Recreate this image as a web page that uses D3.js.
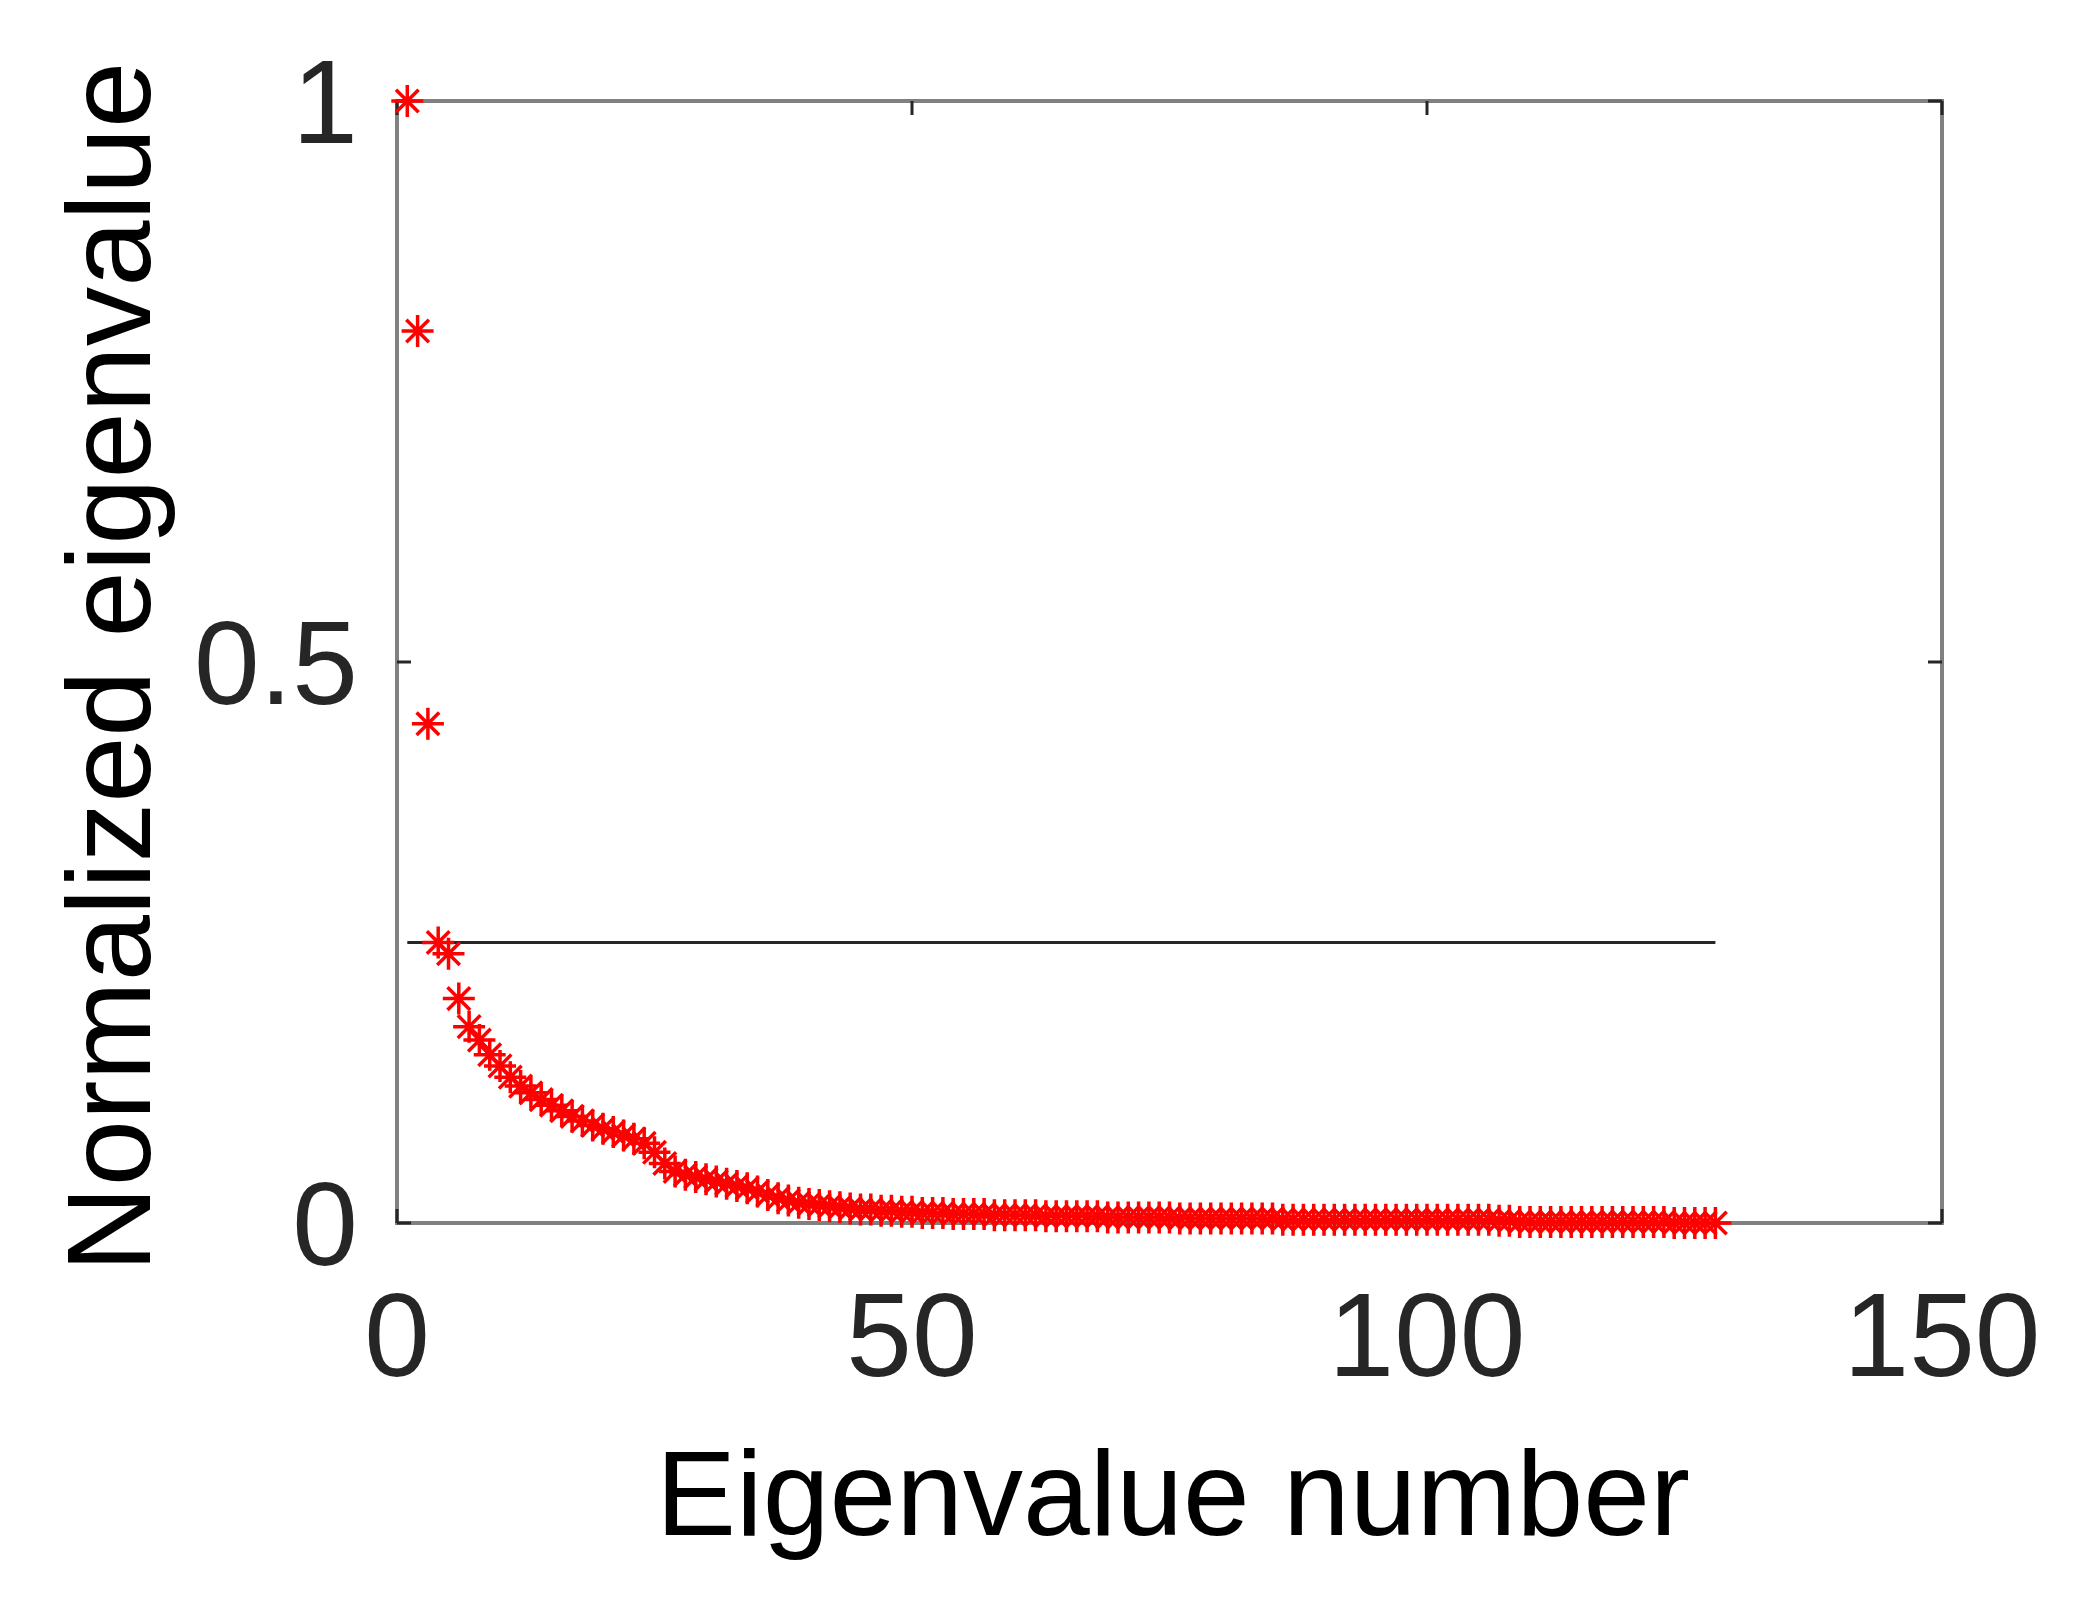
<!DOCTYPE html>
<html><head><meta charset="utf-8">
<script src="https://cdn.jsdelivr.net/npm/d3@7"></script>
<style>body{margin:0;background:#fff}</style>
</head><body>
<div id="chart"></div>
<script>
// normalized eigenvalues (index 1..128)
var eigenvalues = [
  1, 0.795, 0.445, 0.25, 0.24, 0.2, 0.175, 0.163, 0.15, 0.14,
  0.13, 0.122, 0.116, 0.11, 0.105, 0.1, 0.095, 0.091, 0.087, 0.084,
  0.081, 0.078, 0.075, 0.071, 0.063, 0.053, 0.046, 0.043, 0.041, 0.039,
  0.037, 0.035, 0.033, 0.031, 0.028, 0.025, 0.022, 0.02, 0.018, 0.017,
  0.016, 0.015, 0.014, 0.013, 0.012, 0.012, 0.011, 0.011, 0.01, 0.01,
  0.009, 0.009, 0.009, 0.008, 0.008, 0.008, 0.008, 0.007, 0.007, 0.007,
  0.007, 0.007, 0.006, 0.006, 0.006, 0.006, 0.006, 0.006, 0.005, 0.005,
  0.005, 0.005, 0.005, 0.005, 0.005, 0.004, 0.004, 0.004, 0.004, 0.004,
  0.004, 0.004, 0.004, 0.004, 0.004, 0.003, 0.003, 0.003, 0.003, 0.003,
  0.003, 0.003, 0.003, 0.003, 0.003, 0.003, 0.003, 0.003, 0.003, 0.003,
  0.003, 0.003, 0.003, 0.003, 0.003, 0.003, 0.002, 0.002, 0.001, 0.001,
  0.001, 0.001, 0.001, 0.001, 0.001, 0.001, 0.001, 0.001, 0.001, 0.001,
  0.001, 0.001, 0.001, 0.0, 0.0, 0.0, 0.0, 0.0
];
var threshold = 0.25;
var xTicks = [0, 50, 100, 150];
var yTicks = [0, 0.5, 1];

var width = 2079, height = 1600;
var pLeft = 397, pRight = 1942, pTop = 101, pBottom = 1223;

var svg = d3.select('#chart').append('svg')
  .attr('width', width).attr('height', height);

var x = d3.scaleLinear().domain([0, 150]).range([pLeft, pRight]);
var y = d3.scaleLinear().domain([0, 1]).range([pBottom, pTop]);

// box
svg.append('rect')
  .attr('x', pLeft).attr('y', pTop)
  .attr('width', pRight - pLeft).attr('height', pBottom - pTop)
  .style('fill', 'none').style('stroke', '#808080').style('stroke-width', 4);

// inward ticks on all sides
xTicks.forEach(function(t){
  [pBottom, pTop].forEach(function(b, k){
    svg.append('line')
      .attr('x1', x(t)).attr('x2', x(t))
      .attr('y1', b).attr('y2', k ? b + 14 : b - 14)
      .style('stroke', '#262626').style('stroke-width', 3);
  });
  svg.append('text').text(t)
    .attr('x', x(t)).attr('y', 1376)
    .attr('text-anchor', 'middle')
    .style('font-family', 'Liberation Sans, Arial').style('font-size', '118px')
    .style('fill', '#262626');
});
yTicks.forEach(function(t){
  [pLeft, pRight].forEach(function(b, k){
    svg.append('line')
      .attr('y1', y(t)).attr('y2', y(t))
      .attr('x1', b).attr('x2', k ? b - 14 : b + 14)
      .style('stroke', '#262626').style('stroke-width', 3);
  });
  svg.append('text').text(t)
    .attr('x', 358).attr('y', y(t) + 42)
    .attr('text-anchor', 'end')
    .style('font-family', 'Liberation Sans, Arial').style('font-size', '118px')
    .style('fill', '#262626');
});

// threshold line
svg.append('line')
  .attr('x1', x(1)).attr('x2', x(eigenvalues.length))
  .attr('y1', y(threshold)).attr('y2', y(threshold))
  .style('stroke', '#262626').style('stroke-width', 3);

// asterisk markers
var r = 16, d = r * 0.707;
var star = 'M0,' + (-r) + 'V' + r + 'M' + (-r) + ',0H' + r +
  'M' + (-d) + ',' + (-d) + 'L' + d + ',' + d + 'M' + (-d) + ',' + d + 'L' + d + ',' + (-d);
svg.selectAll('.pt').data(eigenvalues).enter().append('path')
  .attr('class', 'pt')
  .attr('d', star)
  .attr('transform', function(v, i){ return 'translate(' + x(i + 1) + ',' + y(v) + ')'; })
  .style('fill', 'none').style('stroke', '#ff0000').style('stroke-width', 3.5);

// axis titles
svg.append('text').text('Eigenvalue number')
  .attr('x', 1173).attr('y', 1535).attr('text-anchor', 'middle')
  .style('font-family', 'Liberation Sans, Arial').style('font-size', '120px').style('fill', '#000');
svg.append('text').text('Normalized eigenvalue')
  .attr('transform', 'translate(150,667) rotate(-90)')
  .attr('text-anchor', 'middle')
  .style('font-family', 'Liberation Sans, Arial').style('font-size', '119px').style('fill', '#000');
</script>
</body></html>
